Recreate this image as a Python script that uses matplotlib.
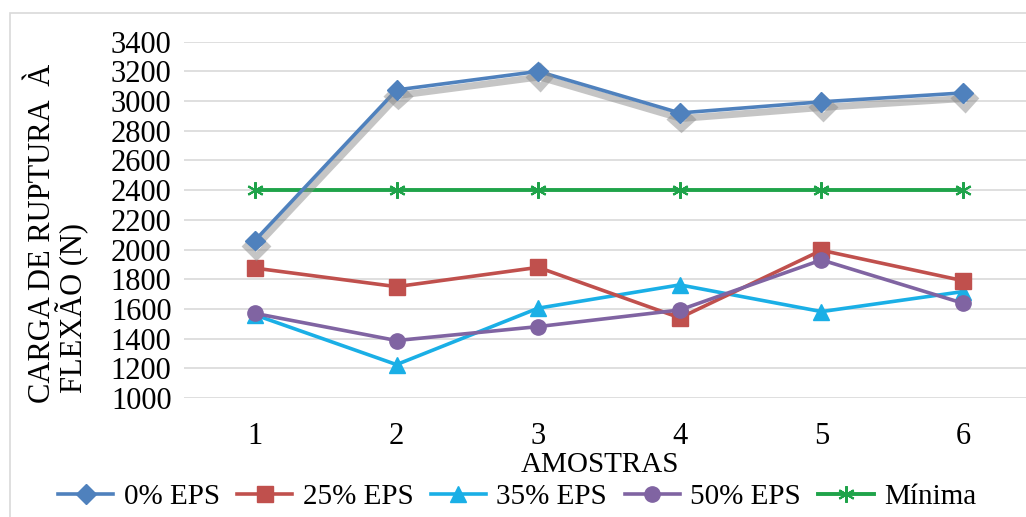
import matplotlib
matplotlib.use('Agg')
import matplotlib.pyplot as plt
import matplotlib.patheffects as pe
from matplotlib.patches import Rectangle

plt.rcParams['font.family'] = ['Liberation Serif', 'DejaVu Serif']

amostras = [1, 2, 3, 4, 5, 6]
eps_0 = [2060, 3075, 3200, 2920, 2995, 3055]
eps_25 = [1875, 1750, 1880, 1540, 1995, 1790]
eps_35 = [1560, 1225, 1605, 1762, 1582, 1717]
eps_50 = [1570, 1387, 1481, 1593, 1930, 1638]
minima = [2400, 2400, 2400, 2400, 2400, 2400]
yticks = list(range(1000, 3401, 200))

W, H = 1026, 517
fig = plt.figure(figsize=(W / 100, H / 100), dpi=100)
# outer chart frame (right/bottom edges fall outside the crop)
fig.patches.append(Rectangle((10 / W, -0.1), 1.2, 1 - 13 / H + 0.1,
                             transform=fig.transFigure, fill=False,
                             edgecolor='#D9D9D9', linewidth=1.2))

ax = fig.add_axes([184 / W, 1 - 398 / H, 850 / W, (398 - 41.7) / H])
ax.set_xlim(0.5, 6.5)
ax.set_ylim(1000, 3400)
ax.set_yticks(yticks)
ax.set_xticks(amostras)
ax.grid(axis='y', color='#D9D9D9', linewidth=1.2)
ax.set_axisbelow(True)
for s in ax.spines.values():
    s.set_visible(False)
ax.tick_params(axis='y', length=0, pad=9, labelsize=22)
ax.tick_params(axis='x', length=0, pad=17, labelsize=22)

shadow = [pe.SimpleLineShadow(offset=(1, -4), shadow_color='#8C8C8C', alpha=0.5, linewidth=5),
          pe.Normal()]

ax.plot(amostras, eps_0, color='#4F81BD', marker='D', markersize=10, linewidth=2.6,
        label='0% EPS', path_effects=shadow, zorder=5)
ax.plot(amostras, eps_25, color='#C0504D', marker='s', markersize=11, linewidth=2.6,
        label='25% EPS', zorder=4)
ax.plot(amostras, eps_35, color='#1AAFE6', marker='^', markersize=11, linewidth=2.6,
        label='35% EPS', zorder=3)
ax.plot(amostras, eps_50, color='#8064A2', marker='o', markersize=11, linewidth=2.6,
        label='50% EPS', zorder=4)
ax.plot(amostras, minima, color='#1FA34A', marker=(6, 2, 0), markersize=12, markeredgewidth=1.5,
        linewidth=2.8, label='Mínima', zorder=3)

fig.text(600 / W, 1 - 465 / H, 'AMOSTRAS', ha='center', va='center', fontsize=21)

fig.text(43 / W, 1 - 403 / H, 'CARGA DE RUPTURA  À', rotation=90,
         ha='center', va='bottom', fontsize=22)
fig.text(72 / W, 1 - 393 / H, 'FLEXÃO (N)', rotation=90,
         ha='center', va='bottom', fontsize=22)

leg = fig.legend(loc='center', bbox_to_anchor=(517 / W, 1 - 497 / H), ncol=5, frameon=False,
                 fontsize=21, handlelength=1.9, handletextpad=0.35, columnspacing=0.6,
                 borderaxespad=0)
leg.legend_handles[0].set_path_effects([])

fig.savefig('out.png', dpi=100)
